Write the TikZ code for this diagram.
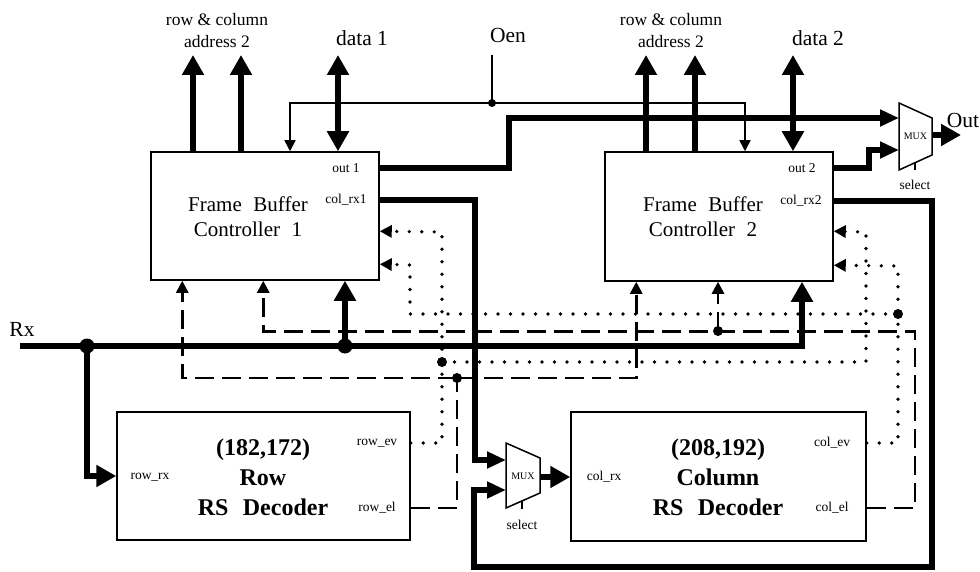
\documentclass[tikz,border=0pt]{standalone}
\usepackage{fontspec}
\setmainfont{Liberation Serif}
\usetikzlibrary{arrows.meta,calc}
\begin{document}
\begin{tikzpicture}[x=1pt,y=-1pt,
 box/.style={draw,line width=1.5pt,inner sep=0pt},
 bus/.style={line width=6.5pt},
 wire/.style={line width=1.5pt},
 dotl/.style={line width=3.6pt,dash pattern=on 0pt off 12.5pt,line cap=round},
 dashl/.style={line width=2.6pt,dash pattern=on 19pt off 8pt},
 tipB/.style={-{Triangle[length=20pt,width=21pt]}},
 tipD/.style={{Triangle[length=20pt,width=21pt]}-{Triangle[length=20pt,width=21pt]}},
 tipM/.style={-{Triangle[length=19pt,width=16pt]}},
 tipS/.style={-{Triangle[length=12pt,width=12pt]}},
 tipT/.style={-{Triangle[length=11pt,width=11pt]}},
 title/.style={font=\fontsize{21}{25}\selectfont,align=center,inner sep=0pt},
 dec/.style={font=\bfseries\fontsize{24}{30}\selectfont,align=center,inner sep=0pt},
 port/.style={font=\fontsize{13.5}{16}\selectfont,inner sep=0pt},
 lab/.style={font=\fontsize{17.5}{22}\selectfont,align=center,inner sep=0pt},
 big/.style={font=\fontsize{21.5}{26}\selectfont,inner sep=0pt},
 muxlab/.style={font=\fontsize{10}{12}\selectfont,inner sep=0pt},
 muxs/.style={draw,line width=1.5pt,fill=white,line join=miter},
 jdot/.style={circle,fill,inner sep=0pt,minimum size=#1},
]
\useasboundingbox (0,0) rectangle (980,572);

% ---------- boxes ----------
\node[box,minimum width=228pt,minimum height=128pt] (fbc1) at (265,216) {};
\node[box,minimum width=228pt,minimum height=129pt] (fbc2) at (719,216.5) {};
\node[box,minimum width=293pt,minimum height=128pt] (rowdec) at (263.5,476) {};
\node[box,minimum width=295pt,minimum height=129pt] (coldec) at (718.5,476.5) {};

\node[title] (t1) at (248,217) {Frame\hspace{0.55em}Buffer\\Controller\hspace{0.55em}1};
\node[title] (t2) at (703,217) {Frame\hspace{0.55em}Buffer\\Controller\hspace{0.55em}2};
\node[dec] (t3) at (263,477) {(182,172)\\Row\\RS\hspace{0.6em}Decoder};
\node[dec] (t4) at (718,477) {(208,192)\\Column\\RS\hspace{0.6em}Decoder};

% ---------- port labels ----------
\node[port] (out1lab) at (346,168) {out 1};
\node[port] (colrx1lab) at (346,200) {col\_rx1};
\node[port] (out2lab) at (802,168) {out 2};
\node[port] (colrx2lab) at (801,201) {col\_rx2};
\node[port] (rowrx) at (150,477) {row\_rx};
\node[port] (rowev) at (377,443) {row\_ev};
\node[port] (rowel) at (377,508) {row\_el};
\node[port] (colrx) at (604,477) {col\_rx};
\node[port] (colev) at (832,443) {col\_ev};
\node[port] (colel) at (832,508) {col\_el};

% ---------- top labels ----------
\node[lab] (rc1) at (217,31) {row \& column\\address 2};
\node[lab] (rc2) at (671,31) {row \& column\\address 2};
\node[big] (data1) at (362,38) {data 1};
\node[big] (data2) at (818,38) {data 2};
\node[big] (oen) at (508,35) {Oen};
\node[big] (rx) at (22,329) {Rx};
\node[big] (outlab) at (963,120) {Out};

% ---------- address / data buses ----------
\coordinate (a1) at (193,55); \coordinate (a2) at (241,55); \coordinate (d1) at (338,55);
\coordinate (a3) at (646,55); \coordinate (a4) at (695,55); \coordinate (d2) at (793,55);
\draw[bus,tipB] (a1 |- fbc1.north) -- (a1);
\draw[bus,tipB] (a2 |- fbc1.north) -- (a2);
\draw[bus,tipD] (d1 |- fbc1.north) -- (d1);
\draw[bus,tipB] (a3 |- fbc2.north) -- (a3);
\draw[bus,tipB] (a4 |- fbc2.north) -- (a4);
\draw[bus,tipD] (d2 |- fbc2.north) -- (d2);

% ---------- Oen ----------
\coordinate (oentop) at (492,55);
\coordinate (oL) at (290,0);
\coordinate (oR) at (745,0);
\node[jdot=8pt] (oenj) at (492,103) {};
\draw[wire] (oentop) -- (oenj.center);
\draw[wire,tipT] (oenj.center) -| (oL |- fbc1.north);
\draw[wire,tipT] (oenj.center) -| (oR |- fbc2.north);

% ---------- output MUX ----------
\coordinate (m1a) at (899,118);
\coordinate (m1b) at (899,150);
\coordinate (m1o) at (932,135);
\coordinate (outend) at (961,135);
\draw[bus,tipM] (fbc1.east |- out1lab) -- ++(129,0) |- (m1a);
\draw[bus,tipM] (fbc2.east |- out2lab) -- ++(35,0) |- (m1b);
\draw[bus,tipB] (m1o) -- (outend);
\draw[muxs] (899,103) -- (932,118) -- (932,155) -- (899,170) -- cycle;
\node[muxlab] (mux1) at (915.5,136.5) {MUX};
\draw[wire] (915,162.5) -- (915,170);
\node[port] (sel1) at (915,185) {select};

% ---------- column MUX ----------
\coordinate (m2a) at (506,460);
\coordinate (m2b) at (506,490);
\coordinate (m2o) at (540,477);
\draw[bus,tipM] (fbc1.east |- colrx1lab) -| (475,420) |- (m2a);
\draw[bus,tipM] (fbc2.east |- colrx2lab) -| (932,567) -- (474,567) |- (m2b);
\draw[bus,tipB] (m2o) -- (coldec.west |- m2o);
\draw[muxs] (506,443) -- (540,458) -- (540,493) -- (506,508) -- cycle;
\node[muxlab] (mux2) at (523,476) {MUX};
\draw[wire] (522,500.8) -- (522,508.5);
\node[port] (sel2) at (522,525) {select};

% ---------- Rx ----------
\coordinate (rxs) at (20,346);
\coordinate (rxx) at (802,0);
\node[jdot=15pt] (j1) at (87,346) {};
\node[jdot=15pt] (j2) at (345,346) {};
\draw[bus,tipB] (rxs) -| (rxx |- fbc2.south);
\draw[bus,tipB] (j2.center) -- (j2 |- fbc1.south);
\draw[bus,tipB] (j1.center) |- (rowdec.west);

% ---------- error value (dotted) ----------
\node[jdot=10pt] (j3) at (442,362) {};
\node[jdot=10pt] (j4) at (898,314) {};
\draw[dotl,tipS] (rowdec.east |- rowev) -| (j3.center) -- (442,232) -- ($(fbc1.north east)+(0,80)$);
\draw[dotl,tipS] (j3.center) -- (866,362) -- (866,232) -- ($(fbc2.north east)+(0,80)$);
\draw[dotl,tipS] (coldec.east |- colev) -| (j4.center) -- (898,266) -- ($(fbc2.north east)+(0,114)$);
\draw[dotl,tipS] (j4.center) -- (410,314) -- (410,265) -- ($(fbc1.north east)+(0,113)$);

% ---------- error location (dashed) ----------
\node[jdot=10pt] (j5) at (457,378) {};
\node[jdot=10pt] (j6) at (718,331) {};
\draw[dashl] (rowdec.east |- rowel) -| (j5.center);
\draw[dashl,tipS] (j5.center) -| ($(fbc1.south west)+(32,0)$);
\draw[dashl,tipS] (j5.center) -| ($(fbc2.south west)+(32,0)$);
\draw[dashl,tipS] (coldec.east |- colel) -- (915,508) |- ($(fbc1.south west)+(113,51)$) -- ($(fbc1.south west)+(113,0)$);
\draw[dashl,tipS] (j6.center) -- (j6 |- fbc2.south);
\end{tikzpicture}
\end{document}
